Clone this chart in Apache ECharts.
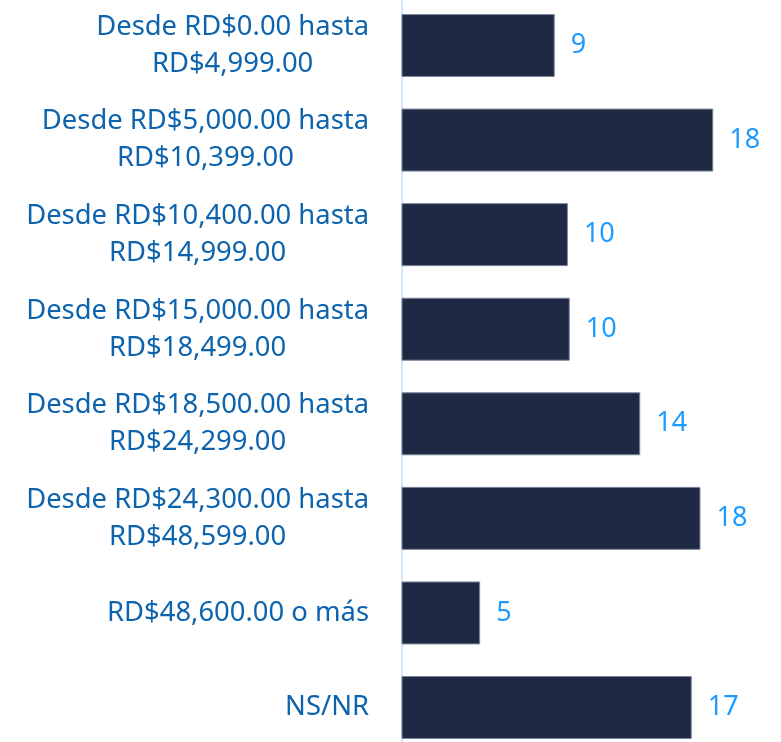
<!DOCTYPE html>
<html>
<head>
<meta charset="utf-8">
<script src="https://cdn.jsdelivr.net/npm/echarts@6/dist/echarts.min.js"></script>
<style>
html,body{margin:0;padding:0;background:#fff;}
#chart{width:781px;height:742px;}
</style>
</head>
<body>
<div id="chart"></div>
<script>
const categories = [
  'Desde RD$0.00 hasta\nRD$4,999.00',
  'Desde RD$5,000.00 hasta\nRD$10,399.00',
  'Desde RD$10,400.00 hasta\nRD$14,999.00',
  'Desde RD$15,000.00 hasta\nRD$18,499.00',
  'Desde RD$18,500.00 hasta\nRD$24,299.00',
  'Desde RD$24,300.00 hasta\nRD$48,599.00',
  'RD$48,600.00 o más',
  'NS/NR'
];
const values = [8.98, 18.27, 9.75, 9.86, 13.99, 17.52, 4.61, 17.01];

const chart = echarts.init(document.getElementById('chart'), null, {renderer: 'canvas'});
chart.setOption({
  animation: false,
  backgroundColor: '#ffffff',
  grid: {left: 401.5, top: -1.8, height: 756.6, width: 341.3, containLabel: false, outerBoundsMode: 'none'},
  xAxis: {
    type: 'value', min: 0, max: 20,
    show: false,
    splitLine: {show: false}
  },
  yAxis: {
    type: 'category',
    data: categories,
    inverse: true,
    axisLine: {show: true, lineStyle: {color: '#d3e8fc', width: 2}},
    axisTick: {show: false},
    axisLabel: {
      margin: 32.5,
      fontFamily: 'Noto Sans',
      fontSize: 27.4,
      color: '#0d63ad',
      formatter: function (v) {
        return v.split('\n').map(function (l) { return '{a|' + l + '}'; }).join('\n');
      },
      rich: {
        a: {align: 'center', fontFamily: 'Noto Sans', fontSize: 27.4, color: '#0d63ad', lineHeight: 37}
      }
    }
  },
  series: [{
    type: 'bar',
    data: values,
    barWidth: 63,
    itemStyle: {color: '#1f2943', borderColor: '#7d879c', borderWidth: 1},
    label: {
      show: true,
      position: 'right',
      distance: 16,
      fontFamily: 'Noto Sans',
      fontSize: 27,
      color: '#1e9bff',
      formatter: function (p) { return Math.round(p.value); }
    }
  }]
});
</script>
</body>
</html>
